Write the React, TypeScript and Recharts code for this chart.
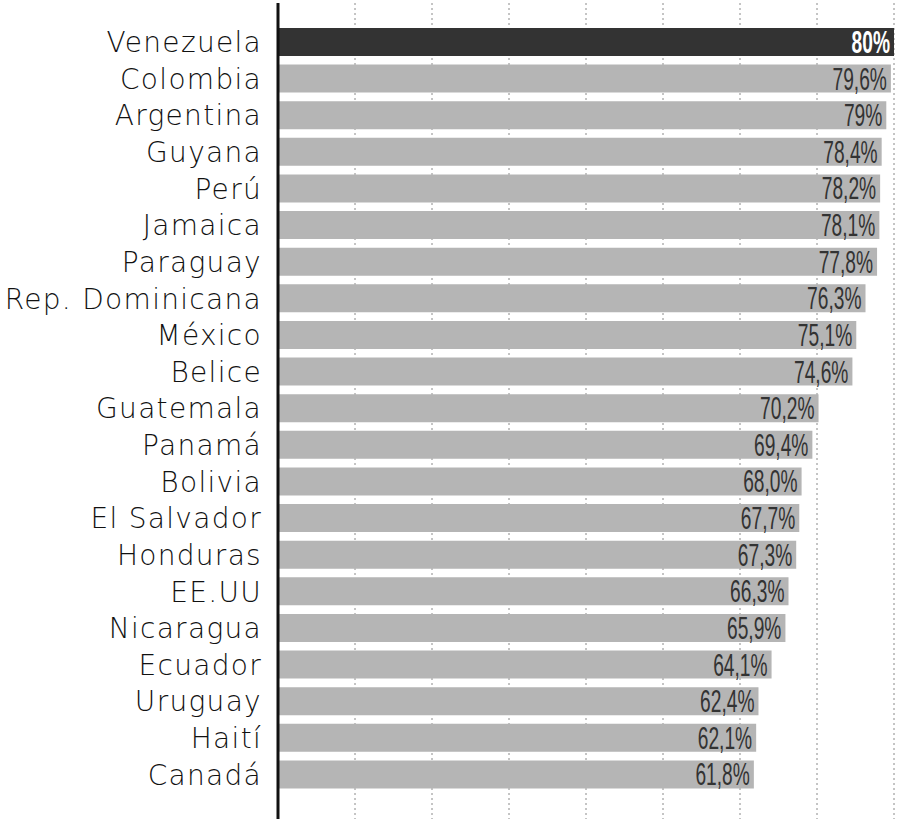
import React from "react";
import { BarChart, Bar, XAxis, YAxis, CartesianGrid, Cell, LabelList } from "recharts";

const countries = [
  "Venezuela", "Colombia", "Argentina", "Guyana", "Perú", "Jamaica", "Paraguay",
  "Rep. Dominicana", "México", "Belice", "Guatemala", "Panamá", "Bolivia",
  "El Salvador", "Honduras", "EE.UU", "Nicaragua", "Ecuador", "Uruguay", "Haití", "Canadá",
];

const values = [
  80, 79.6, 79, 78.4, 78.2, 78.1, 77.8, 76.3, 75.1, 74.6, 70.2, 69.4, 68.0,
  67.7, 67.3, 66.3, 65.9, 64.1, 62.4, 62.1, 61.8,
];

const valueLabels = [
  "80%", "79,6%", "79%", "78,4%", "78,2%", "78,1%", "77,8%", "76,3%", "75,1%",
  "74,6%", "70,2%", "69,4%", "68,0%", "67,7%", "67,3%", "66,3%", "65,9%",
  "64,1%", "62,4%", "62,1%", "61,8%",
];

const xTicks = [0, 10, 20, 30, 40, 50, 60, 70, 80];

const data = countries.map((name, i) => ({ name, value: values[i], label: valueLabels[i] }));

// condensed value label sitting inside the bar end
const ValueLabel = (props: any) => {
  const { x, y, width, height, index } = props;
  const first = index === 0;
  const tx = x + width - 4;
  const ty = y + height - 3;
  return (
    <text
      transform={`translate(${tx},${ty}) scale(0.6,1)`}
      textAnchor="end"
      fontFamily="'Liberation Sans Narrow', 'Liberation Sans', sans-serif"
      fontSize={32}
      fontWeight={first ? 700 : 400}
      fill={first ? "#ffffff" : "#333333"}
    >
      {data[index].label}
    </text>
  );
};

export default function App() {
  return (
    <div style={{ width: 901, height: 819 }}>
      <style>{`body{margin:0;}`}</style>
      <BarChart
        width={901}
        height={819}
        data={data}
        layout="vertical"
        margin={{ top: 3, right: 7, bottom: 0, left: 0 }}
        barSize={28}
      >
        <CartesianGrid
          horizontal={false}
          stroke="#8a8a8a"
          strokeDasharray="2 3"
          strokeWidth={1}
        />
        <XAxis type="number" domain={[0, 80]} ticks={xTicks} hide />
        <YAxis
          type="category"
          dataKey="name"
          width={278}
          padding={{ top: 21, bottom: 26 }}
          tickLine={false}
          tickSize={0}
          tickMargin={16}
          axisLine={{ stroke: "#111111", strokeWidth: 3 }}
          tick={{
            fill: "#111111",
            fontSize: 28,
            fontWeight: 200,
            letterSpacing: 1.3,
            fontFamily: "'DejaVu Sans', sans-serif",
          }}
          interval={0}
        />
        <Bar dataKey="value" isAnimationActive={false}>
          {data.map((d, i) => (
            <Cell key={d.name} fill={i === 0 ? "#333333" : "#b5b5b5"} />
          ))}
          <LabelList dataKey="value" content={<ValueLabel />} />
        </Bar>
      </BarChart>
    </div>
  );
}
